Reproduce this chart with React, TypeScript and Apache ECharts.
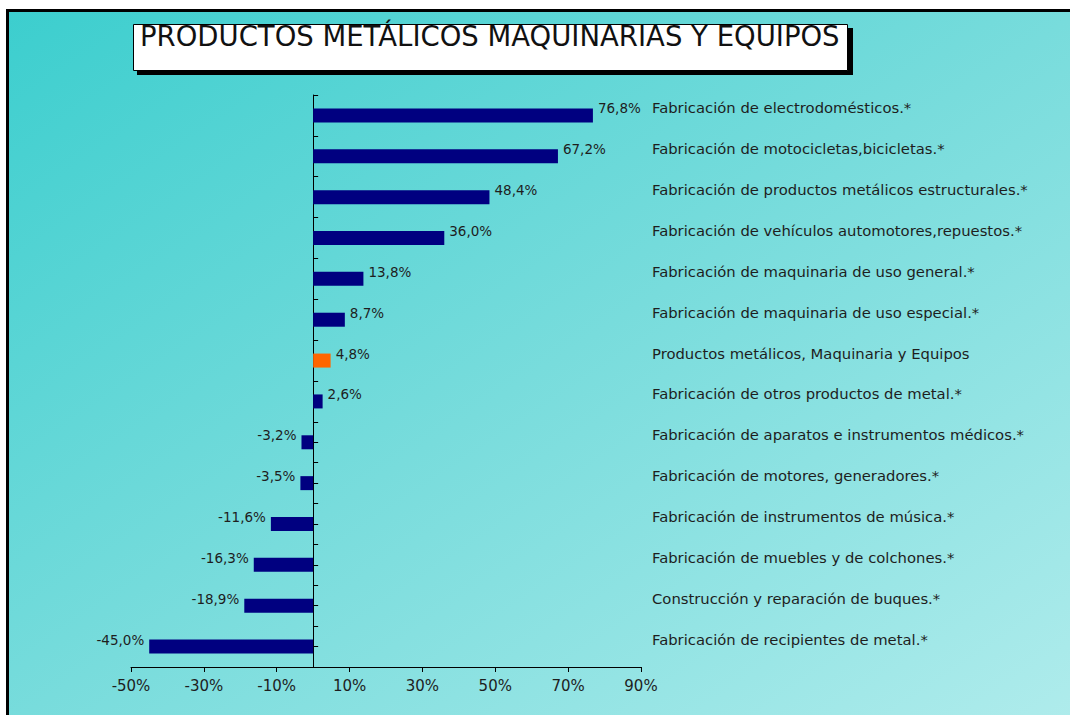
import React, { useEffect, useRef } from "react";
import * as echarts from "echarts";

const TITLE = "PRODUCTOS METÁLICOS MAQUINARIAS Y EQUIPOS";

const categories: string[] = [
  "Fabricación de electrodomésticos.*",
  "Fabricación de motocicletas,bicicletas.*",
  "Fabricación de productos metálicos estructurales.*",
  "Fabricación de vehículos automotores,repuestos.*",
  "Fabricación de maquinaria de uso general.*",
  "Fabricación de maquinaria de uso especial.*",
  "Productos metálicos, Maquinaria y Equipos",
  "Fabricación de otros productos de metal.*",
  "Fabricación de aparatos e instrumentos médicos.*",
  "Fabricación de motores, generadores.*",
  "Fabricación de instrumentos de música.*",
  "Fabricación de muebles y de colchones.*",
  "Construcción y reparación de buques.*",
  "Fabricación de recipientes de metal.*",
];

const values: number[] = [76.8, 67.2, 48.4, 36.0, 13.8, 8.7, 4.8, 2.6, -3.2, -3.5, -11.6, -16.3, -18.9, -45.0];

const highlightCategory = "Productos metálicos, Maquinaria y Equipos";

const xMin = -50;
const xMax = 90;
const xStep = 20;

const NAVY = "#000080";
const ORANGE = "#FF6600";
const TEXT = "#1e1e1e";
const FONT = "DejaVu Sans";

const fmt = (v: number) => `${v.toFixed(1).replace(".", ",")}%`;

const GRID_LEFT = 131;
const GRID_RIGHT = 429;
const CHART_W = 1070;

export default function App() {
  const ref = useRef<HTMLDivElement>(null);

  useEffect(() => {
    if (!ref.current) return;
    const chart = echarts.init(ref.current, undefined, { renderer: "svg" });

    const data = values.map((v, i) => ({
      value: v,
      itemStyle: { color: categories[i] === highlightCategory ? ORANGE : NAVY },
      label: { position: v >= 0 ? "right" : "left" },
    }));

    const plotW = CHART_W - GRID_LEFT - GRID_RIGHT;
    const zeroOffset = -((0 - xMin) / (xMax - xMin)) * plotW;

    chart.setOption({
      animation: false,
      backgroundColor: "#ffffff",
      textStyle: { fontFamily: FONT },
      graphic: [
        {
          type: "rect",
          z: -10,
          silent: true,
          shape: { x: 7.5, y: 10.5, width: 1075, height: 715 },
          style: {
            fill: new echarts.graphic.LinearGradient(0, 0, 1, 1, [
              { offset: 0, color: "#3ccece" },
              { offset: 0.5, color: "#78dcdc" },
              { offset: 1, color: "#b0ecec" },
            ]),
            stroke: "#000000",
            lineWidth: 3,
          },
        },
        {
          type: "rect",
          z: 10,
          silent: true,
          shape: { x: 137, y: 28, width: 716, height: 47 },
          style: { fill: "#000000" },
        },
        {
          type: "rect",
          z: 11,
          silent: true,
          shape: { x: 133.5, y: 24.5, width: 714, height: 46 },
          style: { fill: "#ffffff", stroke: "#000000", lineWidth: 1 },
        },
        {
          type: "text",
          z: 12,
          silent: true,
          x: 140,
          y: 36,
          style: {
            text: TITLE,
            fill: "#111111",
            font: `normal 27.5px "${FONT}"`,
            verticalAlign: "middle",
            align: "left",
          },
        },
      ],
      grid: { left: GRID_LEFT, right: GRID_RIGHT, top: 95, bottom: 48, containLabel: false },
      xAxis: {
        type: "value",
        min: xMin,
        max: xMax,
        interval: xStep,
        splitLine: { show: false },
        axisLine: { show: true, onZero: false, lineStyle: { color: "#000", width: 1 } },
        axisTick: { show: true, length: 5, lineStyle: { color: "#000" } },
        axisLabel: {
          color: TEXT,
          fontSize: 15,
          fontFamily: FONT,
          margin: 11,
          formatter: (v: number) => `${v}%`,
        },
      },
      yAxis: [
        {
          type: "category",
          data: categories,
          inverse: true,
          position: "left",
          axisLine: { show: true, onZero: true, lineStyle: { color: "#000", width: 1 } },
          axisTick: { show: true, inside: true, length: 5, alignWithLabel: false, lineStyle: { color: "#000" } },
          axisLabel: { show: false },
          splitLine: { show: false },
        },
        {
          type: "category",
          data: categories,
          inverse: true,
          position: "left",
          offset: zeroOffset,
          axisLine: { show: false, onZero: false },
          axisTick: { show: true, inside: true, length: 5, alignWithLabel: true, lineStyle: { color: "#000" } },
          axisLabel: { show: false },
          splitLine: { show: false },
        },
        {
          type: "category",
          data: categories,
          inverse: true,
          position: "right",
          axisLine: { show: false, onZero: false },
          axisTick: { show: false },
          axisLabel: {
            show: true,
            color: TEXT,
            fontSize: 14.8,
            fontFamily: FONT,
            margin: 11,
            align: "left",
            verticalAlign: "bottom",
          },
          splitLine: { show: false },
        },
      ],
      series: [
        {
          type: "bar",
          yAxisIndex: 0,
          barWidth: 14,
          data,
          z: 3,
          label: {
            show: true,
            distance: 5,
            color: TEXT,
            fontSize: 13.5,
            fontFamily: FONT,
            verticalAlign: "bottom",
            formatter: (p: any) => fmt(p.value),
          },
        },
      ],
    });

    return () => chart.dispose();
  }, []);

  return (
    <div
      ref={ref}
      style={{ position: "absolute", left: 0, top: 0, width: 1070, height: 715 }}
    />
  );
}
